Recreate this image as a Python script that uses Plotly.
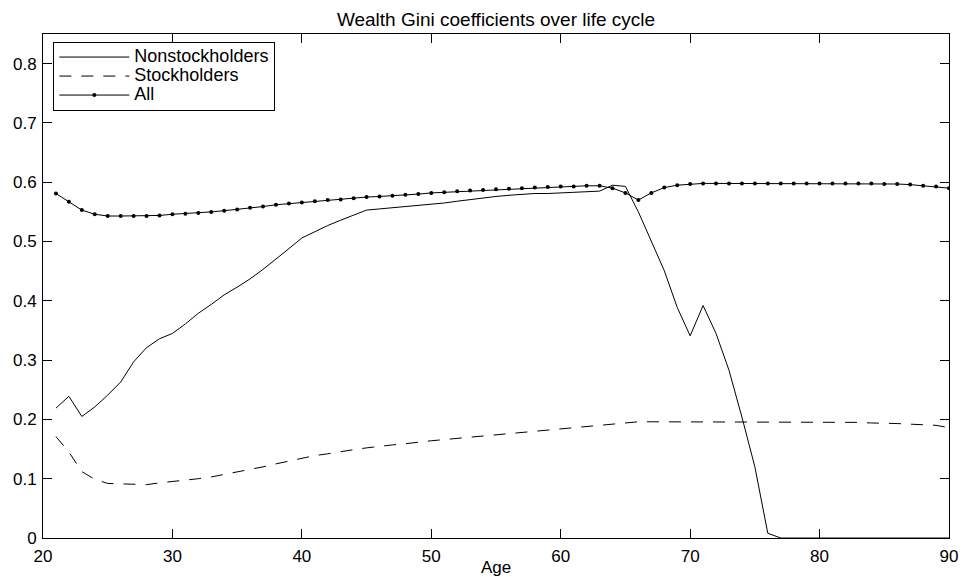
import plotly.graph_objects as go

ages = list(range(21, 91))

nonstockholders = [
    0.219, 0.239, 0.205, 0.221, 0.241, 0.263, 0.297, 0.321, 0.336, 0.345,
    0.361, 0.379, 0.394, 0.410, 0.423, 0.437, 0.453, 0.470, 0.488, 0.506,
    0.517, 0.527, 0.536, 0.544, 0.553, 0.555, 0.557, 0.559, 0.561, 0.562,
    0.565, 0.568, 0.571, 0.574, 0.576, 0.578, 0.580, 0.581, 0.581, 0.582,
    0.583, 0.584, 0.585, 0.595, 0.593, 0.550, 0.499, 0.451, 0.389, 0.341,
    0.392, 0.345, 0.283, 0.204, 0.120, 0.008, 0.000, 0.000, 0.000, 0.000,
    0.000, 0.000, 0.000, 0.000, 0.000, 0.000, 0.000, 0.000, 0.000, 0.000,
]

stockholders = [
    0.171, 0.145, 0.112, 0.099, 0.092, 0.0915, 0.090, 0.090, 0.093, 0.095,
    0.097, 0.100, 0.103, 0.107, 0.111, 0.116, 0.120, 0.125, 0.130, 0.135,
    0.139, 0.142, 0.146, 0.149, 0.152, 0.155, 0.157, 0.159, 0.162, 0.164,
    0.166, 0.168, 0.170, 0.173, 0.175, 0.177, 0.179, 0.181, 0.183, 0.185,
    0.187, 0.189, 0.191, 0.193, 0.195, 0.196, 0.196, 0.196, 0.196, 0.196,
    0.196, 0.196, 0.196, 0.196, 0.196, 0.196, 0.195, 0.195, 0.195, 0.195,
    0.195, 0.195, 0.195, 0.194, 0.194, 0.193, 0.192, 0.191, 0.190, 0.186,
]

all_households = [
    0.581, 0.567, 0.553, 0.546, 0.543, 0.543, 0.543, 0.543, 0.544, 0.546,
    0.547, 0.548, 0.550, 0.552, 0.554, 0.557, 0.559, 0.562, 0.564, 0.566,
    0.568, 0.570, 0.571, 0.573, 0.575, 0.576, 0.577, 0.579, 0.580, 0.582,
    0.583, 0.585, 0.586, 0.587, 0.588, 0.589, 0.590, 0.591, 0.592, 0.593,
    0.593, 0.594, 0.594, 0.590, 0.582, 0.570, 0.582, 0.591, 0.595, 0.597,
    0.598, 0.598, 0.598, 0.598, 0.598, 0.598, 0.598, 0.598, 0.598, 0.598,
    0.598, 0.598, 0.598, 0.598, 0.597, 0.597, 0.596, 0.594, 0.593, 0.590,
]

series_names = ["Nonstockholders", "Stockholders", "All"]
x_ticks = [20, 30, 40, 50, 60, 70, 80, 90]
y_ticks = [0, 0.1, 0.2, 0.3, 0.4, 0.5, 0.6, 0.7, 0.8]
y_tick_labels = ["0", "0.1", "0.2", "0.3", "0.4", "0.5", "0.6", "0.7", "0.8"]

FONT = "Liberation Sans, Arial, Helvetica, sans-serif"


def legend_label(text):
    return "<span style='font-size:18px'>" + text + "</span>"


fig = go.Figure()
fig.add_trace(go.Scatter(x=ages, y=nonstockholders, name=legend_label(series_names[0]),
                         mode="lines", line=dict(color="black", width=1)))
fig.add_trace(go.Scatter(x=ages, y=stockholders, name=legend_label(series_names[1]),
                         mode="lines", line=dict(color="black", width=1, dash="12px,10px")))
fig.add_trace(go.Scatter(x=ages, y=all_households, name=legend_label(series_names[2]),
                         mode="lines+markers", line=dict(color="black", width=1),
                         marker=dict(color="black", size=4, symbol="circle")))

axis_common = dict(
    showgrid=False, zeroline=False, showline=True, linecolor="black", linewidth=1,
    mirror="ticks", ticks="inside", ticklen=9, tickcolor="black", tickwidth=1,
    tickfont=dict(family=FONT, size=17, color="black"), automargin=False,
)

fig.update_layout(
    width=962, height=577,
    margin=dict(l=43, r=13, t=34, b=39),
    paper_bgcolor="white", plot_bgcolor="white",
    font=dict(family=FONT, color="black"),
    title=dict(text="Wealth Gini coefficients over life cycle", x=0.5, xanchor="center",
               xref="paper", y=1 - 19 / 577, yanchor="middle",
               font=dict(family=FONT, size=19, color="black")),
    xaxis=dict(range=[20, 90], tickvals=x_ticks, ticklabelstandoff=3,
               title=dict(text="Age", standoff=0, font=dict(family=FONT, size=17, color="black")),
               **axis_common),
    yaxis=dict(range=[0, 0.85], tickvals=y_ticks, ticktext=y_tick_labels, ticklabelstandoff=2,
               **axis_common),
    legend=dict(x=0.0114, y=0.985, xanchor="left", yanchor="top",
                bordercolor="black", borderwidth=1, bgcolor="white",
                font=dict(family=FONT, size=12, color="black"),
                itemwidth=70, tracegroupgap=0),
    showlegend=True,
)

fig.write_html("out.html", config={"displayModeBar": False},
               post_script="document.body.style.margin='0';")
